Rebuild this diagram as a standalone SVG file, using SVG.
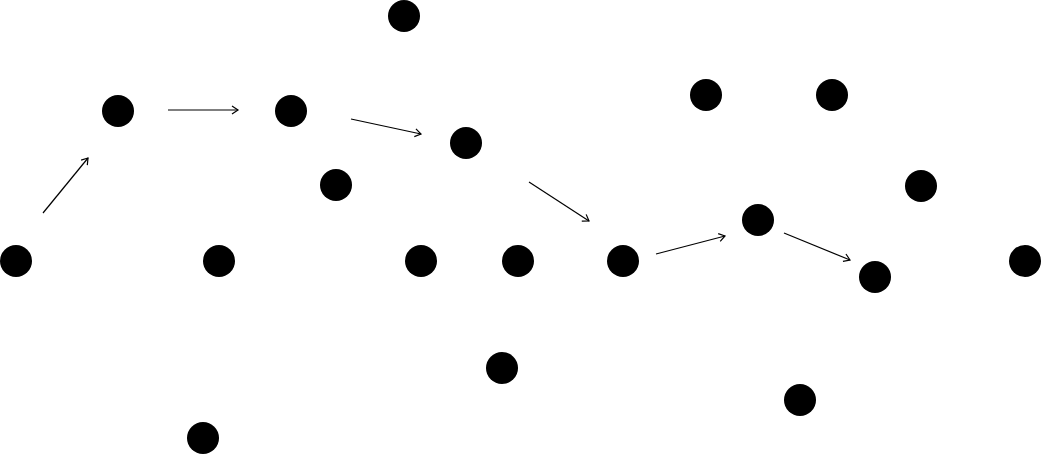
<svg xmlns="http://www.w3.org/2000/svg" width="1042" height="455" viewBox="0 0 1042 455">
<style>
.n{fill:#000}
.e{stroke:#000;stroke-width:1.2;fill:none;marker-end:url(#a)}
</style>
<defs>
<marker id="a" markerWidth="10" markerHeight="10" refX="8" refY="5" orient="auto" markerUnits="userSpaceOnUse">
<path d="M2,1 L8,5 L2,9" fill="none" stroke="#000" stroke-width="1.2"/>
</marker>
</defs>
<rect width="1042" height="455" fill="#fff"/>
<g id="connectors">
<line class="e" x1="43" y1="213" x2="88" y2="158"/>
<line class="e" x1="168" y1="110" x2="238" y2="110"/>
<line class="e" x1="351" y1="119" x2="421" y2="134"/>
<line class="e" x1="529" y1="182" x2="589" y2="221"/>
<line class="e" x1="656" y1="254" x2="725" y2="236"/>
<line class="e" x1="784" y1="233" x2="850" y2="260"/>
</g>
<g id="n1"><circle class="n" cx="404" cy="16" r="16"/></g>
<g id="n2"><circle class="n" cx="118" cy="111" r="16"/></g>
<g id="n3"><circle class="n" cx="291" cy="111" r="16"/></g>
<g id="n4"><circle class="n" cx="706" cy="95" r="16"/></g>
<g id="n5"><circle class="n" cx="832" cy="95" r="16"/></g>
<g id="n6"><circle class="n" cx="466" cy="143" r="16"/></g>
<g id="n7"><circle class="n" cx="336" cy="185" r="16"/></g>
<g id="n8"><circle class="n" cx="921" cy="186" r="16"/></g>
<g id="n9"><circle class="n" cx="758" cy="220" r="16"/></g>
<g id="n10"><circle class="n" cx="16" cy="261" r="16"/></g>
<g id="n11"><circle class="n" cx="219" cy="261" r="16"/></g>
<g id="n12"><circle class="n" cx="421" cy="261" r="16"/></g>
<g id="n13"><circle class="n" cx="518" cy="261" r="16"/></g>
<g id="n14"><circle class="n" cx="623" cy="261" r="16"/></g>
<g id="n15"><circle class="n" cx="875" cy="277" r="16"/></g>
<g id="n16"><circle class="n" cx="1025" cy="261" r="16"/></g>
<g id="n17"><circle class="n" cx="502" cy="368" r="16"/></g>
<g id="n18"><circle class="n" cx="800" cy="400" r="16"/></g>
<g id="n19"><circle class="n" cx="203" cy="438" r="16"/></g>
</svg>
